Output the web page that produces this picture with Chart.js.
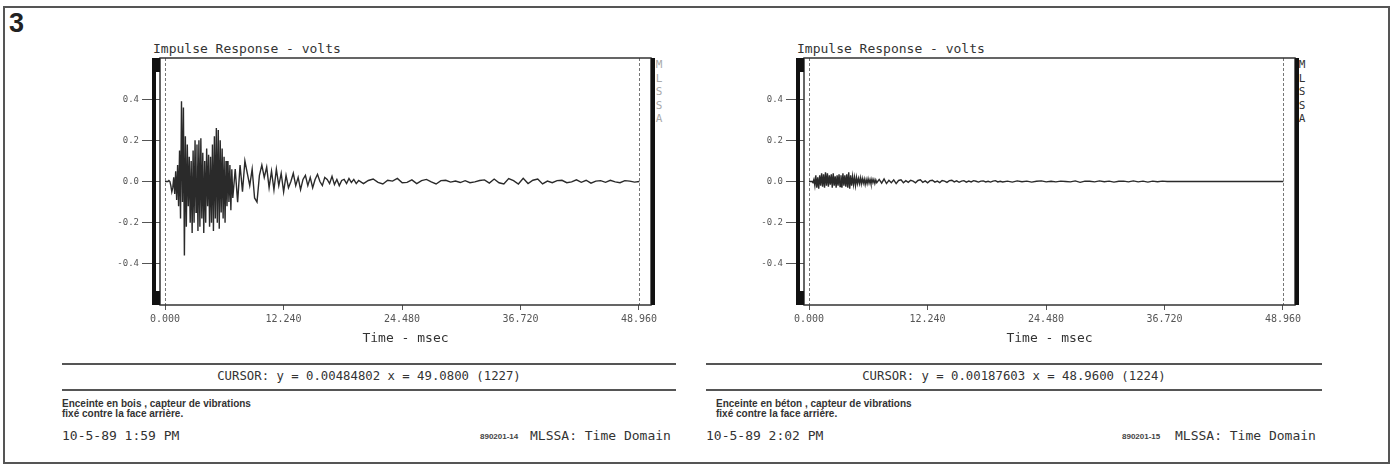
<!DOCTYPE html>
<html>
<head>
<meta charset="utf-8">
<script src="https://cdn.jsdelivr.net/npm/chart.js@4.4.0/dist/chart.umd.min.js"></script>
<style>
  body { margin: 0; width: 1394px; height: 466px; background: #fff; position: relative; overflow: hidden; }
  .frame { position: absolute; left: 3px; top: 6px; width: 1383px; height: 454px; border: 2px solid #555; }
  .abs { position: absolute; white-space: nowrap; color: #333; }
  .mono { font-family: "DejaVu Sans Mono", monospace; }
  .fig { font-family: "Liberation Sans", Arial, sans-serif; font-weight: bold; font-size: 27px; color: #222; }
  .titre { font-size: 13px; }
  .mlssa { font-size: 11px; line-height: 13.5px; white-space: normal; width: 8px; text-align: center; }
  .trait { position: absolute; height: 0; border-top: 2px solid #555; }
  .curseur { font-size: 12.3px; text-align: center; }
  .legende { font-family: "Liberation Sans Narrow", "Liberation Sans", Arial, sans-serif; font-weight: bold; font-size: 10px; line-height: 10px; color: #333; }
  .ref { font-family: "Liberation Sans", Arial, sans-serif; font-weight: bold; font-size: 8px; color: #444; }
  canvas { position: absolute; }
</style>
</head>
<body>
<div class="frame"></div>
<div class="abs fig" style="left:9px; top:8px;">3</div>

<div class="abs mono titre" style="left:153px; top:41px;">Impulse Response - volts</div>
<div class="abs mono titre" style="left:797px; top:41px;">Impulse Response - volts</div>
<div class="abs mono mlssa" style="left:655px; top:58px; color:#aaa;">M L S S A</div>
<div class="abs mono mlssa" style="left:1298px; top:58px;">M L S S A</div>

<div style="position:absolute; left:60px; top:40px; width:620px; height:306px;"><canvas id="graficoBois"></canvas></div>
<div style="position:absolute; left:704px; top:40px; width:620px; height:306px;"><canvas id="graficoBeton"></canvas></div>

<div class="trait" style="left:62px; top:363px; width:614px;"></div>
<div class="trait" style="left:62px; top:389px; width:614px;"></div>
<div class="abs mono curseur" style="left:62px; top:369px; width:614px;">CURSOR: y = 0.00484802 x = 49.0800 (1227)</div>
<div class="trait" style="left:706px; top:363px; width:616px;"></div>
<div class="trait" style="left:706px; top:389px; width:616px;"></div>
<div class="abs mono curseur" style="left:706px; top:369px; width:616px;">CURSOR: y = 0.00187603 x = 48.9600 (1224)</div>

<div class="abs legende" style="left:62px; top:399px;">Enceinte en bois , capteur de vibrations<br>fixé contre la face arrière.</div>
<div class="abs mono titre" style="left:62px; top:428px;">10-5-89 1:59 PM</div>
<div class="abs ref" style="left:480px; top:432px;">890201-14</div>
<div class="abs mono titre" style="left:530px; top:428px;">MLSSA: Time Domain</div>

<div class="abs legende" style="left:716px; top:399px;">Enceinte en béton , capteur de vibrations<br>fixé contre la face arrière.</div>
<div class="abs mono titre" style="left:706px; top:428px;">10-5-89 2:02 PM</div>
<div class="abs ref" style="left:1122px; top:432px;">890201-15</div>
<div class="abs mono titre" style="left:1175px; top:428px;">MLSSA: Time Domain</div>

<script>
// temps (ms) des echantillons
const tempsMs = [
  0.0, 0.1, 0.2, 0.3, 0.4, 0.5, 0.6, 0.7, 0.8, 0.9,
  1.0, 1.1, 1.2, 1.3, 1.4, 1.5, 1.6, 1.7, 1.8, 1.9,
  2.0, 2.1, 2.2, 2.3, 2.4, 2.5, 2.6, 2.7, 2.8, 2.9,
  3.0, 3.1, 3.2, 3.3, 3.4, 3.5, 3.6, 3.7, 3.8, 3.9,
  4.0, 4.1, 4.2, 4.3, 4.4, 4.5, 4.6, 4.7, 4.8, 4.9,
  5.0, 5.1, 5.2, 5.3, 5.4, 5.5, 5.6, 5.7, 5.8, 5.9,
  6.0, 6.1, 6.2, 6.3, 6.4, 6.5, 6.6, 6.7, 6.8, 6.9, 7.0,
  7.25, 7.5, 7.75, 8.0, 8.25, 8.5, 8.75, 9.0, 9.25, 9.5, 9.75,
  10.0, 10.25, 10.5, 10.75, 11.0, 11.25, 11.5, 11.75, 12.0, 12.25, 12.5, 12.75,
  13.0, 13.25, 13.5, 13.75, 14.0, 14.25, 14.5, 14.75, 15.0, 15.25, 15.5, 15.75,
  16.0, 16.25, 16.5, 16.75, 17.0, 17.25, 17.5, 17.75, 18.0, 18.25, 18.5, 18.75,
  19.0, 19.25, 19.5, 19.75, 20.0,
  20.5, 21.0, 21.5, 22.0, 22.5, 23.0, 23.5, 24.0, 24.5, 25.0,
  25.5, 26.0, 26.5, 27.0, 27.5, 28.0, 28.5, 29.0, 29.5, 30.0,
  30.5, 31.0, 31.5, 32.0, 32.5, 33.0, 33.5, 34.0, 34.5, 35.0,
  35.5, 36.0, 36.5, 37.0, 37.5, 38.0, 38.5, 39.0, 39.5, 40.0,
  40.5, 41.0, 41.5, 42.0, 42.5, 43.0, 43.5, 44.0, 44.5, 45.0,
  45.5, 46.0, 46.5, 47.0, 47.5, 48.0, 48.5, 49.0
];

// enceinte en bois (volts)
const voltsBois = [
  0, 0, 0, 0, 0.005, 0, -0.02, -0.05, -0.03, 0.02,
  -0.06, 0.05, -0.09, 0.08, -0.12, 0.15, -0.18, 0.39, -0.1, 0.36,
  -0.36, 0.22, -0.22, 0.18, -0.12, 0.12, -0.2, 0.1, -0.25, 0.15,
  -0.2, 0.2, -0.15, 0.18, -0.24, 0.2, -0.22, 0.21, -0.18, 0.14,
  -0.25, 0.1, -0.2, 0.16, -0.12, 0.13, -0.22, 0.12, -0.2, 0.18,
  -0.24, 0.22, -0.18, 0.26, -0.2, 0.25, -0.23, 0.2, -0.15, 0.16,
  -0.18, 0.12, -0.2, 0.1, -0.12, 0.1, -0.1, 0.08, -0.14, 0.06, -0.08,
  0.06, -0.1, 0.08, -0.05, 0.1, 0.04, -0.02, 0.06, -0.08, -0.1, 0.03,
  0.08, 0.02, 0.07, -0.03, 0.05, -0.04, 0.06, -0.02, 0.04, -0.05, 0.03, -0.03,
  0.0, 0.04, -0.02, 0.02, -0.04, 0.01, 0.03, -0.02, 0.02, -0.03, 0.01, 0.035,
  0.0, -0.02, 0.02, 0.01, -0.01, 0.025, -0.015, 0.01, -0.02, 0.005, 0.01, -0.01,
  0.015, -0.005, 0.01, -0.01, 0.005,
  -0.01, 0.005, 0.012, -0.004, -0.012, 0.006, 0.002, 0.015, -0.006, -0.004,
  0.008, -0.01, 0.004, 0.01, -0.002, -0.012, 0.004, 0.006, -0.003, 0.002,
  -0.005, 0.004, -0.006, -0.002, 0.005, 0.008, -0.008, 0.012, -0.006, -0.012,
  0.014, 0.004, -0.012, 0.016, -0.01, 0.006, 0.012, -0.012, 0.002, -0.006,
  0.004, 0.006, -0.006, -0.002, 0.008, -0.004, 0.006, -0.008, 0.002, 0.004,
  -0.004, 0.006, -0.002, -0.006, 0.004, 0.002, -0.003, 0.0
];

// enceinte en beton (volts)
const voltsBeton = [
  0, 0, 0, 0, -0.005, 0.01, -0.02, 0.03, -0.03, 0.02,
  -0.035, 0.03, -0.02, 0.04, -0.025, 0.035, -0.03, 0.045, -0.02, 0.04,
  -0.025, 0.03, -0.015, 0.035, -0.03, 0.04, -0.02, 0.025, -0.03, 0.03,
  -0.02, 0.035, -0.025, 0.03, -0.03, 0.04, -0.02, 0.03, -0.025, 0.035,
  -0.03, 0.045, -0.035, 0.03, -0.02, 0.025, -0.015, 0.02, -0.02, 0.02,
  -0.01, 0.015, -0.01, 0.018, -0.012, 0.015, -0.008, 0.012, -0.015, 0.01,
  -0.01, 0.014, -0.008, 0.01, -0.012, 0.012, -0.006, 0.01, -0.01, 0.008, -0.006,
  0.01, -0.008, 0.012, -0.01, 0.006, -0.006, 0.008, -0.01, 0.005, 0.008, -0.006,
  0.004, -0.004, 0.006, 0.002, -0.006, 0.005, 0.008, -0.004, 0.003, -0.006, 0.004, 0.006,
  -0.003, 0.002, -0.005, 0.005, 0.002, -0.004, 0.004, 0.006, -0.002, 0.003, -0.004, 0.002,
  0.004, -0.003, 0.002, -0.002, 0.004, 0.001, -0.003, 0.002, 0.003, -0.002, 0.001, -0.003,
  0.002, 0.004, -0.002, 0.001, -0.002,
  0.002, -0.003, 0.003, -0.001, 0.002, -0.003, 0.001, 0.003, -0.002, 0.001,
  -0.002, 0.002, 0.0, -0.002, 0.003, -0.004, 0.002, 0.001, -0.002, 0.003,
  -0.001, 0.002, -0.003, 0.001, 0.002, -0.002, 0.003, -0.002, 0.002, -0.003,
  0.002, -0.001, 0.002, 0.0, 0, 0, 0, 0, 0, 0,
  0, 0, 0, 0, 0, 0, 0, 0, 0, 0,
  0, 0, 0, 0, 0, 0, 0, 0
];

const graduationsX = [0, 12.24, 24.48, 36.72, 48.96];
const graduationsY = [-0.4, -0.2, 0, 0.2, 0.4];
const curseursMs = [0, 48.96];

const cadre = {
  id: 'cadre',
  afterDraw(chart) {
    const ctx = chart.ctx;
    const a = chart.chartArea;
    const x = chart.scales.x;
    ctx.save();
    // curseurs pointilles
    ctx.strokeStyle = '#777';
    ctx.lineWidth = 1;
    ctx.setLineDash([3, 2]);
    curseursMs.forEach((t) => {
      const px = Math.round(x.getPixelForValue(t)) + 0.5;
      ctx.beginPath();
      ctx.moveTo(px, a.top);
      ctx.lineTo(px, a.bottom);
      ctx.stroke();
    });
    ctx.setLineDash([]);
    // cadre
    ctx.strokeStyle = '#333';
    ctx.lineWidth = 1.5;
    ctx.strokeRect(a.left, a.top, a.right - a.left, a.bottom - a.top);
    // barres noires
    ctx.fillStyle = '#111';
    ctx.fillRect(a.left - 8, a.top, 4, a.bottom - a.top);
    ctx.fillRect(a.left - 8, a.top, 8, 14);
    ctx.fillRect(a.left - 8, a.bottom - 14, 8, 14);
    ctx.fillRect(a.right, a.top, 4, a.bottom - a.top);
    ctx.restore();
  }
};

function crearGrafico(id, volts) {
  const ctx = document.getElementById(id).getContext('2d');
  const puntos = tempsMs.map((t, i) => ({ x: t, y: volts[i] }));
  return new Chart(ctx, {
    type: 'line',
    data: {
      datasets: [{
        data: puntos,
        borderColor: '#2a2a2a',
        borderWidth: 1.4,
        pointRadius: 0,
        tension: 0
      }]
    },
    options: {
      responsive: true,
      maintainAspectRatio: false,
      animation: false,
      layout: { padding: { left: 0, right: 29, top: 18, bottom: 0 } },
      plugins: { legend: { display: false }, tooltip: { enabled: false } },
      scales: {
        x: {
          type: 'linear',
          min: -0.52,
          max: 50.2,
          afterBuildTicks: (s) => { s.ticks = graduationsX.map((v) => ({ value: v })); },
          afterFit: (s) => { s.height = 41; },
          border: { display: false },
          grid: { drawOnChartArea: false, drawTicks: true, tickLength: 5, color: '#555' },
          ticks: {
            padding: 3,
            color: '#555',
            font: { family: 'DejaVu Sans Mono', size: 10 },
            maxRotation: 0,
            callback: (v) => Number(v).toFixed(3)
          },
          title: {
            display: true,
            text: 'Time - msec',
            color: '#333',
            padding: { top: 2, bottom: 0 },
            font: { family: 'DejaVu Sans Mono', size: 13 }
          }
        },
        y: {
          min: -0.6,
          max: 0.6,
          afterBuildTicks: (s) => { s.ticks = graduationsY.map((v) => ({ value: v })); },
          afterFit: (s) => { s.width = 100; },
          border: { display: false },
          grid: { drawOnChartArea: false, drawTicks: true, tickLength: 18, color: '#555' },
          ticks: {
            padding: 3,
            color: '#555',
            font: { family: 'DejaVu Sans Mono', size: 9 },
            callback: (v) => Number(v).toFixed(1)
          }
        }
      }
    },
    plugins: [cadre]
  });
}

crearGrafico('graficoBois', voltsBois);
crearGrafico('graficoBeton', voltsBeton);
</script>
</body>
</html>
